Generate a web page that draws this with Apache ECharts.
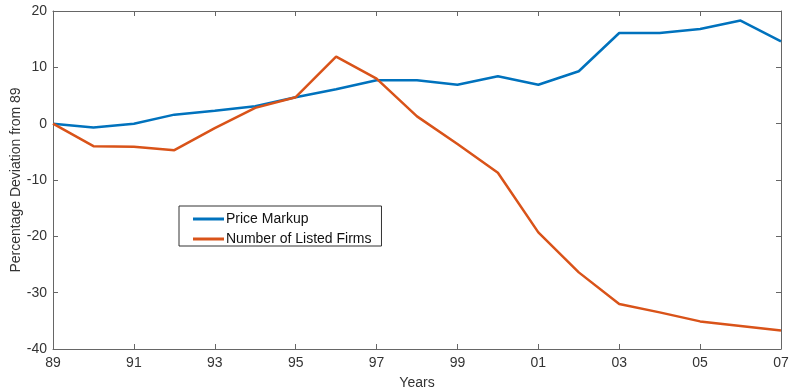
<!DOCTYPE html>
<html>
<head>
<meta charset="utf-8">
<script src="https://cdn.jsdelivr.net/npm/echarts@6/dist/echarts.min.js"></script>
<style>html,body{margin:0;padding:0;background:#fff}#c{width:789px;height:389px}</style>
</head>
<body>
<div id="c"></div>
<script>
var years = ['89','90','91','92','93','94','95','96','97','98','99','00','01','02','03','04','05','06','07'];
var priceMarkup = [0,-0.7,0,1.6,2.3,3.1,4.7,6.1,7.7,7.7,6.9,8.4,6.9,9.3,16.1,16.1,16.8,18.3,14.6];
var listedFirms = [0,-4.0,-4.1,-4.7,-0.8,2.8,4.7,11.9,8.0,1.3,-3.6,-8.7,-19.3,-26.4,-32.0,-33.5,-35.1,-35.9,-36.7];
var seriesNames = ['Price Markup','Number of Listed Firms'];

var axisCol = '#666666';
var textCol = '#333333';
var font = 'Liberation Sans, Arial, sans-serif';
var chart = echarts.init(document.getElementById('c'));
var xBase = {
  type: 'category', data: years, boundaryGap: false,
  axisLine: {show: true, onZero: false, lineStyle: {color: axisCol, width: 1}},
  axisTick: {show: true, inside: true, interval: 1, length: 5, lineStyle: {color: axisCol}},
  splitLine: {show: false}
};
var yBase = {
  type: 'value', min: -40, max: 20, interval: 10,
  axisLine: {show: true, lineStyle: {color: axisCol, width: 1}},
  axisTick: {show: true, inside: true, length: 5, lineStyle: {color: axisCol}},
  splitLine: {show: false}
};
chart.setOption({
  animation: false,
  textStyle: {fontFamily: font},
  grid: {left: 53, right: 8, top: 11, bottom: 40, outerBoundsMode: 'none', containLabel: false},
  xAxis: [
    Object.assign({}, xBase, {position: 'bottom',
      axisLabel: {interval: 1, color: textCol, fontSize: 14, margin: 7, fontFamily: font},
      name: 'Years', nameLocation: 'middle', nameGap: 27, nameMoveOverlap: false,
      nameTextStyle: {color: textCol, fontSize: 14, fontFamily: font}}),
    Object.assign({}, xBase, {position: 'top', axisLabel: {show: false}})
  ],
  yAxis: [
    Object.assign({}, yBase, {position: 'left',
      axisLabel: {color: textCol, fontSize: 14, margin: 6, fontFamily: font},
      name: 'Percentage Deviation from 89', nameLocation: 'middle', nameGap: 30, nameMoveOverlap: false,
      nameTextStyle: {color: textCol, fontSize: 14, fontFamily: font}}),
    Object.assign({}, yBase, {position: 'right', axisLabel: {show: false}})
  ],
  legend: {
    orient: 'vertical', left: 179, top: 206,
    borderColor: '#333', borderWidth: 1, backgroundColor: '#fff',
    padding: [6, 10, 0, 14], itemGap: 6,
    itemWidth: 31, itemHeight: 3, icon: 'rect',
    textStyle: {color: '#111', fontSize: 14, fontFamily: font, padding: [0,0,0,-3]},
    data: seriesNames
  },
  series: [
    {name: seriesNames[0], type: 'line', data: priceMarkup, symbol: 'none',
     lineStyle: {color: '#0072BD', width: 2.5}, itemStyle: {color: '#0072BD'}},
    {name: seriesNames[1], type: 'line', data: listedFirms, symbol: 'none',
     lineStyle: {color: '#D95319', width: 2.5}, itemStyle: {color: '#D95319'}}
  ]
});
</script>
</body>
</html>
